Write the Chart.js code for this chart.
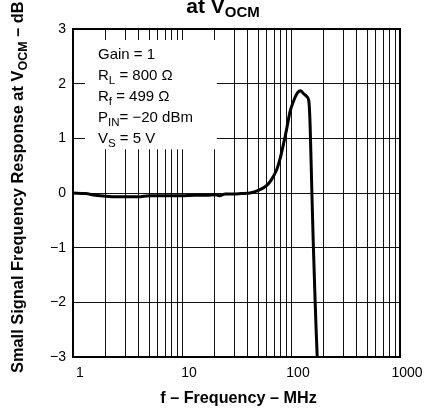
<!DOCTYPE html>
<html>
<head>
<meta charset="utf-8">
<script src="https://cdn.jsdelivr.net/npm/chart.js@4.4.1/dist/chart.umd.min.js"></script>
<style>
  html, body { margin: 0; padding: 0; background: #fff; }
  #wrap { width: 429px; height: 409px; }
</style>
</head>
<body>
<div id="wrap"><canvas id="c" width="429" height="409"></canvas></div>
<script>
// ---- data ----
const freqMHz = [1.0, 1.3, 1.6, 2.0, 2.5, 3.0, 4.0, 5.0, 6.0, 8.0, 10, 13, 17, 20, 22, 25, 30, 35, 42,
                 52, 60, 66, 74, 79, 85, 91, 98, 105, 112, 118, 122, 130, 140, 146, 150, 155, 160, 166, 170, 174];
const responseDb = [0.0, -0.01, -0.04, -0.06, -0.07, -0.07, -0.07, -0.05, -0.05, -0.05, -0.05, -0.04, -0.04, -0.03, -0.05, -0.02, -0.02, -0.01, 0.0,
                    0.06, 0.14, 0.24, 0.43, 0.61, 0.88, 1.16, 1.49, 1.67, 1.80, 1.86, 1.87, 1.82, 1.76, 1.67, 1.2, 0.1, -0.9, -1.9, -2.5, -3.0];

const xGrid = [1, 2, 3, 4, 5, 6, 7, 8, 9, 10, 20, 30, 40, 50, 60, 70, 80, 90,
               100, 200, 300, 400, 500, 600, 700, 800, 900, 1000];
const xLabels = [1, 10, 100, 1000];
const yTicks = [-3, -2, -1, 0, 1, 2, 3];

// condition notes: [main, subscript, rest]
const notes = [
    ['Gain = 1', '', ''],
    ['R', 'L', ' = 800 Ω'],
    ['R', 'f', ' = 499 Ω'],
    ['P', 'IN', '= −20 dBm'],
    ['V', 'S', ' = 5 V']
];

const FONT = '"Liberation Sans", Arial, Helvetica, sans-serif';

// draws text with a subscript part
function subText(ctx, x, y, parts, size, subSize, weight, drop) {
    ctx.font = `${weight} ${size}px ${FONT}`;
    ctx.fillText(parts[0], x, y);
    x += ctx.measureText(parts[0]).width;
    if (parts[1]) {
        ctx.font = `${weight} ${subSize}px ${FONT}`;
        ctx.fillText(parts[1], x, y + drop);
        x += ctx.measureText(parts[1]).width;
    }
    ctx.font = `${weight} ${size}px ${FONT}`;
    ctx.fillText(parts[2], x, y);
    return x + ctx.measureText(parts[2]).width;
}
function subWidth(ctx, parts, size, subSize, weight) {
    ctx.font = `${weight} ${size}px ${FONT}`;
    let w = ctx.measureText(parts[0]).width + ctx.measureText(parts[2]).width;
    ctx.font = `${weight} ${subSize}px ${FONT}`;
    return w + ctx.measureText(parts[1]).width;
}

const decor = {
    id: 'decor',
    beforeDatasetsDraw(chart) {
        // white notes box over the grid (short ticks stay visible)
        const { ctx, chartArea: a, scales } = chart;
        const x1 = a.left + 12, y1 = a.top + 11;
        const x2 = scales.x.getPixelForValue(20) + 2;
        const y2 = scales.y.getPixelForValue(1) + 11;
        ctx.save();
        ctx.fillStyle = '#fff';
        ctx.fillRect(x1, y1, x2 - x1, y2 - y1);
        ctx.restore();
    },
    afterDraw(chart) {
        const { ctx, chartArea: a } = chart;
        ctx.save();
        // frame
        ctx.strokeStyle = '#000';
        ctx.lineWidth = 2;
        ctx.strokeRect(a.left, a.top, a.right - a.left, a.bottom - a.top);

        ctx.fillStyle = '#000';
        ctx.textBaseline = 'alphabetic';
        ctx.textAlign = 'left';

        // notes
        notes.forEach((n, i) => {
            subText(ctx, a.left + 25, a.top + 30 + i * 21, n, 15, 11.5, 'normal', 4);
        });

        // title (first line is off the top)
        const tParts = ['at V', 'OCM', ''];
        const tw = subWidth(ctx, tParts, 21, 15, 'bold');
        subText(ctx, 223 - tw / 2, 13, tParts, 21, 15, 'bold', 4);

        // x axis title
        ctx.font = `bold 16.2px ${FONT}`;
        ctx.textAlign = 'center';
        ctx.fillText('f \u2013 Frequency \u2013 MHz', 238.5, 403);

        // y axis title
        ctx.textAlign = 'left';
        ctx.translate(23, 373);
        ctx.rotate(-Math.PI / 2);
        subText(ctx, 0, 0, ['Small Signal Frequency Response at V', 'OCM', ' \u2013 dB'], 16.4, 12.5, 'bold', 4);
        ctx.restore();
    }
};

new Chart(document.getElementById('c'), {
    type: 'line',
    data: {
        datasets: [{
            data: freqMHz.map((f, i) => ({ x: f, y: responseDb[i] })),
            borderColor: '#000',
            borderWidth: 3,
            pointRadius: 0,
            fill: false,
            cubicInterpolationMode: 'monotone'
        }]
    },
    options: {
        responsive: false,
        animation: false,
        devicePixelRatio: 1,
        layout: { padding: { top: 29, right: 29, left: 0, bottom: 0 } },
        plugins: { legend: { display: false }, tooltip: { enabled: false } },
        scales: {
            x: {
                type: 'logarithmic',
                min: 1, max: 1000,
                afterBuildTicks: s => { s.ticks = xGrid.map(v => ({ value: v })); },
                afterFit: s => { s.height = 52; },
                grid: { color: '#111', lineWidth: 1, drawTicks: false },
                border: { display: false },
                ticks: {
                    autoSkip: false, maxRotation: 0, padding: 8, labelOffset: 7,
                    color: '#000',
                    font: { family: FONT, size: 14 },
                    callback: v => xLabels.includes(v) ? String(v) : ''
                }
            },
            y: {
                type: 'linear',
                min: -3, max: 3,
                afterBuildTicks: s => { s.ticks = yTicks.map(v => ({ value: v })); },
                afterFit: s => { s.width = 73; },
                grid: { color: '#111', lineWidth: 1, drawTicks: false },
                border: { display: false },
                ticks: {
                    padding: 7,
                    color: '#000',
                    font: { family: FONT, size: 14 },
                    callback: v => v < 0 ? '\u2212' + Math.abs(v) : String(v)
                }
            }
        }
    },
    plugins: [decor]
});
</script>
</body>
</html>
